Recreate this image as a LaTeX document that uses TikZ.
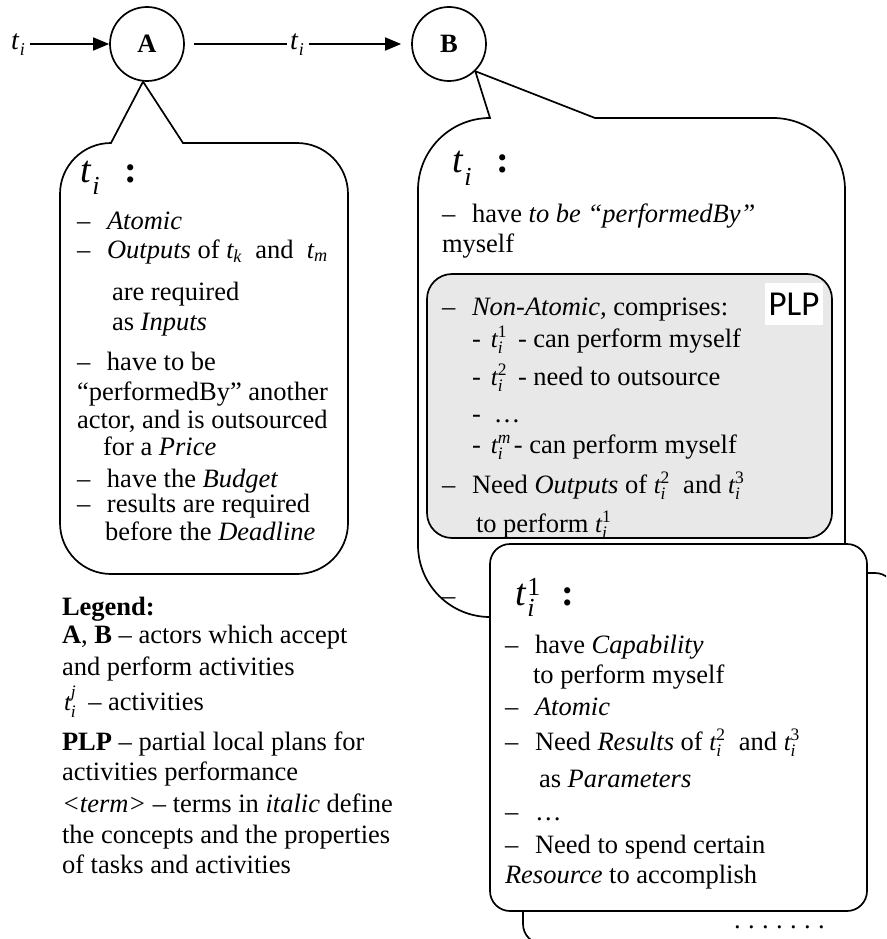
\documentclass[tikz,border=0pt]{standalone}
\usepackage{amsmath}
\usepackage{graphicx}
\usepackage{fontspec}
\setmainfont{Liberation Serif}
\newfontfamily\plpfont{Carlito}
\usetikzlibrary{arrows.meta,backgrounds}

\definecolor{plpgray}{HTML}{E8E8E8}

% body text and list helpers
\newcommand\bodyfont{\fontsize{26.5}{30}\selectfont}
\newcommand\dashtab{\makebox[30pt][l]{–}}
% inline activity symbols
\newcommand\tsub[1]{{\fontsize{26}{28}\selectfont$\textit{t}_{\textit{#1}}$}}
\newcommand\tvar[2]{{\fontsize{25}{28}\selectfont$\textit{t}_{\textit{#1}}^{\textup{#2}}$}}
% flow labels between the actors
\newcommand\flowt{{\fontsize{28}{30}\selectfont\textit{t}\kern0.5pt\raisebox{-6pt}{\fontsize{18}{18}\selectfont\textit{i}}}}
% large headings of the task cards
\newcommand\headti{{\fontsize{38}{40}\selectfont\textit{t}\kern1pt\raisebox{-13pt}{\fontsize{26}{26}\selectfont\textit{i}}\hspace{25pt}\textbf{:}}}
\newcommand\headone{{\fontsize{38}{40}\selectfont\textit{t}\kern1pt\rlap{\raisebox{10pt}{\fontsize{26}{26}\selectfont 1}}\raisebox{-11pt}{\fontsize{26}{26}\selectfont\textit{i}}\hspace{27pt}\textbf{:}}}

\begin{document}
\begin{tikzpicture}[x=1pt,y=-1pt,line width=1.7pt,
  txt/.style={anchor=base west,inner sep=0pt,outer sep=0pt,font=\bodyfont},
  actor/.style={circle,draw,minimum size=74pt,inner sep=0pt,font=\bodyfont\bfseries},
  flow/.style={-{Triangle[length=16pt,width=13pt]}},
  callout/.style={draw,fill=white,line width=1.7pt,line join=miter},
  card/.style={draw,fill=white,rounded corners=20pt}]

\useasboundingbox (0,0) rectangle (886,939);
\clip (0,0) rectangle (886,939);

% actors and the flow of task t_i
\node[actor] (A) at (147,44) {A};
\node[actor] (B) at (449,44) {B};
\coordinate (src) at (30,44);
\node[txt] (tin) at (11,50) {\flowt};
\node[txt] (tmid) at (290,50) {\flowt};
\draw[flow] (src) -- (A);
\draw[shorten <=9pt,shorten >=3pt] (A) -- (A -| tmid.west);
\draw[flow,shorten <=5pt,shorten >=10pt] (tmid.east |- B) -- (B);

% callouts attached to the actors
\begin{scope}[on background layer]
\draw[callout] (A.-96) -- (111,143) arc[start angle=270,end angle=180,radius=51]
  -- (60,523) arc[start angle=180,end angle=90,radius=51]
  -- (297,574) arc[start angle=90,end angle=0,radius=51]
  -- (348,194) arc[start angle=0,end angle=-90,radius=51]
  -- (183,143) -- cycle;
\draw[callout] (B.-46) -- (490,118) arc[start angle=270,end angle=180,radius=72]
  -- (418,545) arc[start angle=180,end angle=90,radius=72]
  -- (773,617) arc[start angle=90,end angle=0,radius=72]
  -- (845,190) arc[start angle=0,end angle=-90,radius=72]
  -- (595,118) -- cycle;
\end{scope}

% task as seen by actor A
\node[txt] (ha) at (80,182) {\headti};
\node[txt] (a1) at (77,229) {\dashtab\textit{Atomic}};
\node[txt] (a2) at (77,258) {\dashtab\textit{Outputs} of \tsub{k}\ \ and \ \tsub{m}};
\node[txt] (a3) at (112,300) {are required};
\node[txt] (a4) at (112,330) {as \textit{Inputs}};
\node[txt] (a5) at (77,370) {\dashtab have to be};
\node[txt] (a6) at (77,400) {“performedBy” another};
\node[txt] (a7) at (77,428) {actor, and is outsourced};
\node[txt] (a8) at (103,455) {for a \textit{Price}};
\node[txt] (a9) at (77,487) {\dashtab have the \textit{Budget}};
\node[txt] (a10) at (77,512) {\dashtab results are required};
\node[txt] (a11) at (105,540) {before the \textit{Deadline}};

% task as seen by actor B
\node[txt] (hb) at (452,172) {\headti};
\node[txt] (b1) at (442,222) {\dashtab have \textit{to be “performedBy”}};
\node[txt] (b2) at (442,252) {myself};
\node[txt] (bdash) at (442,604) {–};

% partial local plan
\draw[fill=plpgray,rounded corners=25pt] (427,274) rectangle (832,538);
\node[fill=white,font=\plpfont\fontsize{35}{35}\selectfont,minimum width=58pt,minimum height=42pt,inner sep=0pt] (plp) at (794,304) {PLP};
\node[txt] (p1) at (442,315) {\dashtab\textit{Non-Atomic,} comprises:};
\node[txt] (p2) at (472,347) {-\hspace{10pt}\tvar{i}{1}\hspace{11pt}- can perform myself};
\node[txt] (p3) at (472,385) {-\hspace{10pt}\tvar{i}{2}\hspace{11pt}- need to outsource};
\node[txt] (p4) at (472,422) {-\hspace{13pt}\dots};
\node[txt] (p5) at (472,453) {-\hspace{10pt}\tvar{i}{\textit{m}}\hspace{3pt}- can perform myself};
\node[txt] (p6) at (442,493) {\dashtab Need \textit{Outputs} of \tvar{i}{2}\ \ and \tvar{i}{3}};
\node[txt] (p7) at (476,532) {to perform \tvar{i}{1}};

% stacked cards of the sub-activities
\draw[card] (523,573) rectangle (895,944);
\node[txt] (more) at (734,928) {.\hspace{7.4pt}.\hspace{7.4pt}.\hspace{7.4pt}.\hspace{7.4pt}.\hspace{7.4pt}.\hspace{7.4pt}.};
\draw[card] (490,544) rectangle (867,911);
\node[txt] (hc) at (515,605) {\headone};
\node[txt] (c1) at (505,653) {\dashtab have \textit{Capability}};
\node[txt] (c2) at (533,683) {to perform myself};
\node[txt] (c3) at (505,715) {\dashtab\textit{Atomic}};
\node[txt] (c4) at (505,750) {\dashtab Need \textit{Results} of \tvar{i}{2}\ \ and \tvar{i}{3}};
\node[txt] (c5) at (539,787) {as \textit{Parameters}};
\node[txt] (c6) at (505,820) {\dashtab\dots};
\node[txt] (c7) at (505,853) {\dashtab Need to spend certain};
\node[txt] (c8) at (505,883) {\textit{Resource} to accomplish};

% legend
\node[txt] (lg0) at (62,615) {\textbf{Legend:}};
\node[txt] (lg1) at (62,643) {\textbf{A}, \textbf{B} – actors which accept};
\node[txt] (lg2) at (62,675) {and perform activities};
\node[txt] (lg3) at (64,710) {\tvar{i}{\textit{j}}\hspace{12pt}– activities};
\node[txt] (lg4) at (62,750) {\textbf{PLP} – partial local plans for};
\node[txt] (lg5) at (62,780) {activities performance};
\node[txt] (lg6) at (62,812) {\textit{<term>} – terms in \textit{italic} define};
\node[txt] (lg7) at (62,843) {the concepts and the properties};
\node[txt] (lg8) at (62,873) {of tasks and activities};
\end{tikzpicture}
\end{document}
